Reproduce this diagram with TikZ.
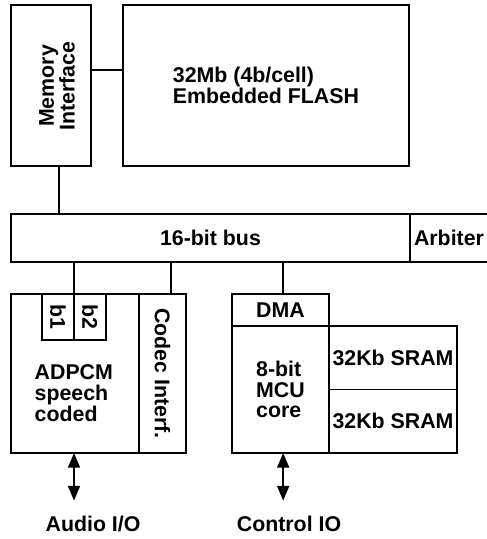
\documentclass[tikz,border=0pt]{standalone}
\usepackage{fontspec}
\setmainfont{Liberation Sans}
\usetikzlibrary{arrows.meta,positioning}
\tikzset{
  block/.style={draw, line width=1.2pt, anchor=north west, outer sep=0pt,
    inner sep=0pt, align=center},
  link/.style={line width=1.2pt},
  io/.style={line width=1.2pt,
    {Triangle[length=11pt,width=9pt]}-{Triangle[length=11pt,width=9pt]}},
  tag/.style={anchor=base, inner sep=0pt}
}

\begin{document}
\begin{tikzpicture}[x=0.75pt, y=-0.75pt, font=\fontsize{16}{15.5}\selectfont\bfseries]
        \useasboundingbox (0,0) rectangle (486,539);
        % memory
        \node[block, minimum width=60pt, minimum height=120.75pt] (mem) at (11,5) {};
        \node[rotate=90, align=center] (memtext) at (57,86) {Memory\\Interface};
        \node[block, align=left, minimum width=214.5pt, minimum height=120.75pt] (flash) at (123,5)
          {32Mb (4b/cell)\\Embedded FLASH};
        % bus
        \node[block, minimum width=299.25pt, minimum height=36pt] (bus) at (11,214) {16-bit bus};
        \node[block, minimum width=58.5pt, minimum height=36pt] (arb) at (410,214) {Arbiter};
        % speech codec
        \node[block, minimum width=96pt, minimum height=119.25pt] (adpcm) at (11,294) {};
        \node[block, minimum width=35.25pt, minimum height=119.25pt] (codec) at (139,294) {};
        \node[block, minimum width=24pt, minimum height=34.5pt] (b1) at (42,294) {};
        \node[block, minimum width=24pt, minimum height=34.5pt] (b2) at (74,294) {};
        \node[rotate=-90] (b1text) at (b1) {b1};
        \node[rotate=-90] (b2text) at (b2) {b2};
        \node[rotate=-90] (codectext) at (codec) {Codec Interf.};
        \node[align=left, anchor=west] (adpcmtext) at (30,393) {ADPCM\\speech\\coded};
        % controller
        \node[block, minimum width=72.75pt, minimum height=24pt] (dma) at (232,294) {DMA};
        \node[block, align=left, minimum width=72.75pt, minimum height=95.25pt] (mcu) at (232,326)
          {8-bit\\MCU\\core};
        \node[block, minimum width=96pt, minimum height=47.625pt] (sram1) at (329,326) {32Kb SRAM};
        \node[block, minimum width=96pt, minimum height=47.625pt] (sram2) at (329,389.5) {32Kb SRAM};
        % outside
        \node[tag] (audio) at (93,531) {Audio I/O};
        \node[tag] (ctrl) at (289,531) {Control IO};
        % links
        \coordinate (memtap) at ([xshift=6pt]mem.south);
        \coordinate (codectap) at ([xshift=6.4pt]codec.north);
        \coordinate (dmatap) at ([xshift=2pt]dma.north);
        \coordinate (mcutap) at ([xshift=2pt]mcu.south);
        \draw[link] ([yshift=11.6pt]mem.east) -- ([yshift=11.6pt]flash.west);
        \draw[link] (memtap) -- (memtap |- bus.north);
        \draw[link] (b1.north east) -- (b1.north east |- bus.south);
        \draw[link] (codectap) -- (codectap |- bus.south);
        \draw[link] (dmatap) -- (dmatap |- bus.south);
        \draw[io, shorten >=11pt] (b1.north east |- adpcm.south) -- (b1.north east |- audio.north);
        \draw[io, shorten >=11pt] (mcutap) -- (mcutap |- ctrl.north);
    \end{tikzpicture}
\end{document}
